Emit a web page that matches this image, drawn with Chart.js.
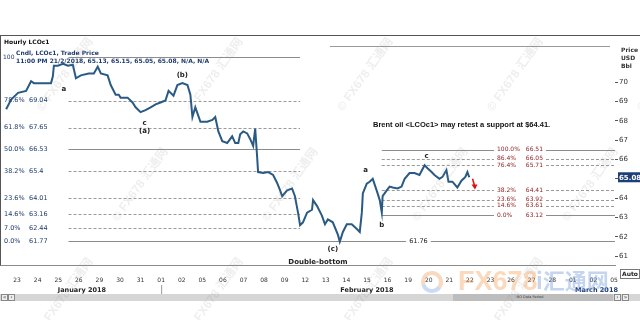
<!DOCTYPE html>
<html>
<head>
<meta charset="utf-8">
<title>Hourly LCOc1</title>
<script src="https://cdn.jsdelivr.net/npm/chart.js@4/dist/chart.umd.min.js"></script>
<style>
  html, body { margin: 0; padding: 0; background: #fff; }
  canvas { display: block; }
</style>
</head>
<body>
<canvas id="chart" width="640" height="320"></canvas>
<script>
// hourly LCOc1 path, x = trading days since 23 Jan
const dayPos = [
  -0.53, -0.29, 0.05, 0.44, 0.68, 0.82, 1.16, 1.65, 1.74, 1.79, 1.98, 2.23, 2.47, 2.71, 2.86, 3.10,
  3.48, 3.73, 3.92, 4.07, 4.40, 4.55, 4.79, 4.94,
  5.03, 5.37, 5.61, 5.76, 6.00, 6.24, 6.49, 6.73, 6.97, 7.21, 7.36, 7.60, 7.79, 8.03, 8.28, 8.42,
  8.52, 8.66, 8.91, 9.24, 9.49, 9.63, 9.78, 9.97, 10.21, 10.45, 10.60, 10.75,
  10.84, 10.99, 11.18, 11.33, 11.47, 11.57, 11.66, 11.71, 11.96, 12.20, 12.44, 12.63, 12.78, 12.88,
  13.12, 13.36, 13.50, 13.65, 13.75, 13.89, 14.09, 14.33, 14.38, 14.57, 14.81, 14.96, 15.10, 15.34,
  15.59, 15.68, 15.83, 16.02, 16.26, 16.51,
  16.65, 16.75, 16.80, 16.99, 17.13, 17.28, 17.47, 17.62, 17.72, 17.76, 17.96, 18.10, 18.25, 18.49,
  18.68, 18.83, 19.07, 19.31, 19.55, 19.80, 19.94, 20.14, 20.28, 20.52, 20.67, 20.86, 20.96, 21.15,
  21.39, 21.59, 21.78, 21.88, 21.97
];
const prices = [
  68.6, 69.1, 69.45, 69.55, 70.05, 69.95, 69.95, 69.95, 70.3, 70.85, 70.85, 70.95, 70.85, 70.9, 70.2, 70.35,
  70.45, 70.45, 70.8, 70.45, 70.35, 69.85, 69.35, 69.35,
  69.2, 69.2, 68.95, 68.7, 68.45, 68.55, 68.7, 68.85, 68.95, 69.05, 69.55, 69.3, 69.85, 69.95, 69.85, 69.35,
  68.2, 68.7, 67.95, 67.95, 68.05, 68.2, 67.45, 66.95, 66.85, 67.2, 66.85, 66.85,
  67.3, 67.45, 67.35, 67.05, 66.7, 67.6, 66.2, 65.35, 65.3, 65.35, 65.2, 64.8, 64.4, 64.1,
  64.4, 64.5, 64.1, 63.25, 62.6, 62.75, 63.25, 63.4, 63.9, 63.6, 63.1, 62.65, 62.9, 62.75,
  62.1, 61.75, 62.25, 62.65, 62.65, 62.4,
  62.25, 63.25, 64.25, 64.75, 64.85, 65.0, 64.4, 63.9, 63.25, 64.1, 64.4, 64.6, 64.55, 64.5,
  64.6, 65.0, 65.3, 65.3, 65.2, 65.7, 65.55, 65.35, 65.2, 65.0, 65.1, 65.45, 64.85, 64.85,
  64.55, 64.9, 65.1, 65.35, 65.08
];

const dayLabels = ['23', '24', '25', '26', '29', '30', '31', '01', '02', '05', '06', '07', '08', '09', '12',
  '13', '14', '15', '16', '19', '20', '21', '22', '23', '26', '27', '28', '01', '02', '05'];
const monthLabels = ['January 2018', 'February 2018', 'March 2018'];
const yTicks = [61, 62, 63, 64, 65, 66, 67, 68, 69, 70];

const leftFibPct = ['78.6%', '61.8%', '50.0%', '38.2%', '23.6%', '14.6%', '7.0%', '0.0%'];
const leftFibVal = [69.04, 67.65, 66.53, 65.4, 64.01, 63.16, 62.44, 61.77];
const leftFibHigh = 71.28;

const rightFibPct = ['100.0%', '86.4%', '76.4%', '38.2%', '23.6%', '14.6%', '0.0%'];
const rightFibVal = [66.51, 66.05, 65.71, 64.41, 63.92, 63.61, 63.12];

const lastPrice = 65.08;
const secondLow = 61.76;

const FONT = "'Liberation Sans', Arial, sans-serif";
const VFONT = "'DejaVu Sans', Verdana, sans-serif";

function txt(c, s, x, y, font, color, align) {
    c.font = font;
    c.fillStyle = color;
    c.textAlign = align || 'left';
    c.textBaseline = 'middle';
    c.fillText(s, x, y);
}

function hline(c, y, x1, x2, solid) {
    c.beginPath();
    c.setLineDash(solid ? [] : [3, 2]);
    c.strokeStyle = solid ? '#8c8c8c' : '#9a9a9a';
    c.lineWidth = 1;
    c.moveTo(x1, Math.round(y) + 0.5);
    c.lineTo(x2, Math.round(y) + 0.5);
    c.stroke();
    c.setLineDash([]);
}

const fibLines = {
    id: 'fibLines',
    beforeDatasetsDraw(chart) {
        const c = chart.ctx, xs = chart.scales.x, ys = chart.scales.y, area = chart.chartArea;
        c.save();
        // left retracement, 25 Jan high to 12 Feb low
        const lx1 = xs.getPixelForValue(2.5), lx2 = xs.getPixelForValue(13.75);
        hline(c, ys.getPixelForValue(leftFibHigh), lx1, lx2, true);
        leftFibVal.forEach((v, i) => {
            const end = leftFibPct[i] === '0.0%' ? area.right : lx2;
            hline(c, ys.getPixelForValue(v), lx1, end, leftFibPct[i] === '50.0%' || leftFibPct[i] === '0.0%');
        });
        // right retracement, 16 Feb low to 20 Feb high
        const rx1 = xs.getPixelForValue(17.72);
        rightFibVal.forEach((v, i) => {
            const solid = rightFibPct[i] === '100.0%' || rightFibPct[i] === '0.0%';
            const y = ys.getPixelForValue(v);
            hline(c, y, rx1, 494, solid);
            hline(c, y, 546, area.right, solid);
        });
        c.restore();
    },
    afterDraw(chart) {
        const c = chart.ctx, xs = chart.scales.x, ys = chart.scales.y, area = chart.chartArea;
        const X = v => xs.getPixelForValue(v), Y = v => ys.getPixelForValue(v);
        c.save();

        // frame
        c.strokeStyle = '#555';
        c.lineWidth = 1;
        c.beginPath();
        c.moveTo(0, area.top + 0.5); c.lineTo(640, area.top + 0.5);
        c.moveTo(0.5, area.top); c.lineTo(0.5, area.bottom);
        c.stroke();
        c.strokeStyle = '#999';
        c.beginPath();
        c.moveTo(330, 46.5); c.lineTo(610, 46.5);
        c.stroke();

        // header
        txt(c, 'Hourly LCOc1', 4, 42, 'bold 6px ' + VFONT, '#111');
        txt(c, '100', 3, 57, '6px ' + VFONT, '#1d3b6e');
        txt(c, 'Cndl, LCOc1, Trade Price', 16, 53, 'bold 6px ' + VFONT, '#1d3b6e');
        txt(c, '11:00 PM 21/2/2018, 65.13, 65.15, 65.05, 65.08, N/A, N/A', 16, 61.5, 'bold 6px ' + VFONT, '#1d3b6e');

        // axis title
        ['Price', 'USD', 'Bbl'].forEach((s, i) => txt(c, s, 621, 50 + i * 8, 'bold 6px ' + VFONT, '#333'));

        // left fib labels
        leftFibVal.forEach((v, i) => {
            txt(c, leftFibPct[i], 4, Y(v), '6.5px ' + VFONT, '#1d3b6e');
            txt(c, String(v), 29, Y(v), '6.5px ' + VFONT, '#1d3b6e');
        });

        // right fib labels
        rightFibVal.forEach((v, i) => {
            txt(c, rightFibPct[i], 497, Y(v), '6px ' + VFONT, '#8b1c1c');
            txt(c, v.toFixed(2), 543, Y(v), '6px ' + VFONT, '#8b1c1c', 'right');
        });

        // second low label on the 0.0% line
        c.font = '6.5px ' + VFONT;
        const w = c.measureText(secondLow.toFixed(2)).width;
        c.fillStyle = '#fff';
        c.fillRect(X(19.5) - w / 2 - 3, Y(leftFibVal[7]) - 4, w + 6, 8);
        txt(c, secondLow.toFixed(2), X(19.5), Y(leftFibVal[7]), '6.5px ' + VFONT, '#222', 'center');

        // wave counts
        const waves = [
            ['a', 2.27, 69.65], ['(b)', 8.03, 70.35], ['c', 6.2, 67.9], ['(a)', 6.2, 67.45],
            ['(c)', 15.34, 61.35], ['a', 16.94, 65.47], ['b', 17.72, 62.6], ['c', 19.89, 66.17]
        ];
        waves.forEach(w => txt(c, w[0], X(w[1]), Y(w[2]), 'bold 7px ' + VFONT, '#222', 'center'));
        txt(c, 'Double-bottom', X(14.62), Y(60.7), 'bold 7px ' + VFONT, '#222', 'center');

        // comment
        txt(c, 'Brent oil <LCOc1> may retest a support at $64.41.', 373, 124.5, 'bold 7.5px ' + FONT, '#111');

        // red arrow towards 38.2%
        const ax = X(22.2), ay1 = Y(65.0), ay2 = Y(64.45);
        c.strokeStyle = '#e01010';
        c.fillStyle = '#e01010';
        c.lineWidth = 1.5;
        c.beginPath();
        c.moveTo(ax - 1.5, ay1); c.lineTo(ax + 0.5, ay2 - 4);
        c.stroke();
        c.beginPath();
        c.moveTo(ax + 1, ay2); c.lineTo(ax - 2.5, ay2 - 5); c.lineTo(ax + 3.5, ay2 - 5);
        c.closePath(); c.fill();

        // last price marker
        const ly = Y(lastPrice);
        c.fillStyle = '#1c3f78';
        c.fillRect(618, ly - 5, 22, 10);
        txt(c, lastPrice.toFixed(2), 619, ly + 0.5, 'bold 7px ' + VFONT, '#fff');

        // Auto box
        c.strokeStyle = '#777';
        c.lineWidth = 1;
        c.strokeRect(620.5, 269.5, 19, 9);
        txt(c, 'Auto', 622, 274.5, 'bold 6px ' + VFONT, '#222');

        // months
        const monthPos = [3.15, 17.0, 28.15];
        monthLabels.forEach((m, i) => txt(c, m, X(monthPos[i]), 290, 'bold 6.5px ' + VFONT, i === 2 ? '#1d3b6e' : '#222', 'center'));
        c.strokeStyle = '#999';
        c.beginPath();
        c.moveTo(X(7) + 0.5, 285); c.lineTo(X(7) + 0.5, 294);
        c.stroke();

        // scroll bar
        c.fillStyle = '#d6d6d6';
        c.fillRect(0, 294, 640, 7);
        c.fillStyle = '#bdbdbd';
        c.fillRect(453, 294, 160, 7);
        txt(c, 'NO Data Period', 530, 297.5, '3.5px ' + VFONT, '#444', 'center');
        c.fillStyle = '#eee';
        [[1, 294], [8, 294], [614, 294], [622, 294]].forEach(p => {
            c.fillRect(p[0], p[1], 7, 7);
            c.strokeStyle = '#888';
            c.strokeRect(p[0] + 0.5, p[1] + 0.5, 6, 6);
        });
        txt(c, '\u00ab', 4.5, 297.5, '6px ' + VFONT, '#333', 'center');
        txt(c, '\u2039', 11.5, 297.5, '6px ' + VFONT, '#333', 'center');
        txt(c, '\u203a', 617.5, 297.5, '6px ' + VFONT, '#333', 'center');
        txt(c, '\u00bb', 625.5, 297.5, '6px ' + VFONT, '#333', 'center');

        // watermarks
        c.globalAlpha = 0.14;
        for (let row = 0; row < 3; row++) {
            for (let col = 0; col < 5; col++) {
                const wx = 40 + col * 150 + (row % 2) * 75;
                const wy = 110 + row * 110;
                c.save();
                c.translate(wx, wy);
                c.rotate(-0.95);
                txt(c, '\u00a9 FX678 \u6c47\u901a\u7f51', 0, 0, 'bold 12px ' + FONT + ", 'Noto Sans CJK SC'", '#8a8a8a');
                c.restore();
            }
        }
        c.globalAlpha = 1;

        // logo
        c.globalAlpha = 0.4;
        c.lineWidth = 4;
        c.strokeStyle = '#f0a060';
        c.beginPath(); c.arc(432, 282, 9, Math.PI * 0.9, Math.PI * 2.2); c.stroke();
        c.strokeStyle = '#7fa3e0';
        c.beginPath(); c.arc(432, 282, 9, Math.PI * 0.2, Math.PI * 0.9); c.stroke();
        txt(c, 'FX678', 458, 283, 'bold 27px ' + FONT, '#f2a05a');
        txt(c, 'i\u6c47\u901a\u7f51', 536, 281, "bold 22px 'Noto Sans CJK SC', sans-serif", '#6f95d8');
        c.globalAlpha = 1;

        c.restore();
    }
};

const ctx = document.getElementById('chart').getContext('2d');
let myChart = new Chart(ctx, {
    type: 'line',
    data: {
        datasets: [{
            label: 'LCOc1',
            data: dayPos.map((d, i) => ({ x: d, y: prices[i] })),
            borderColor: '#2a5a84',
            borderWidth: 2,
            pointRadius: 0,
            tension: 0
        }]
    },
    options: {
        responsive: false,
        animation: false,
        layout: { padding: { top: 35, left: 1, right: 0, bottom: 33 } },
        plugins: { legend: { display: false }, tooltip: { enabled: false } },
        scales: {
            x: {
                type: 'linear',
                min: -0.78,
                max: 29.05,
                afterBuildTicks: s => { s.ticks = dayLabels.map((l, i) => ({ value: i })); },
                ticks: {
                    autoSkip: false,
                    maxRotation: 0,
                    padding: 3,
                    color: '#333',
                    font: { family: VFONT, size: 6 },
                    callback: v => dayLabels[v]
                },
                grid: { display: false },
                border: { display: true, color: '#8a8a8a' }
            },
            y: {
                position: 'right',
                min: 60.5,
                max: 72.44,
                afterBuildTicks: s => { s.ticks = yTicks.map(v => ({ value: v })); },
                afterFit: s => { s.width = 25; },
                ticks: {
                    padding: 1,
                    color: '#333',
                    font: { family: VFONT, size: 7 }
                },
                grid: { drawOnChartArea: false, tickLength: 3, color: '#555' },
                border: { display: false }
            }
        }
    },
    plugins: [fibLines]
});
</script>
</body>
</html>
